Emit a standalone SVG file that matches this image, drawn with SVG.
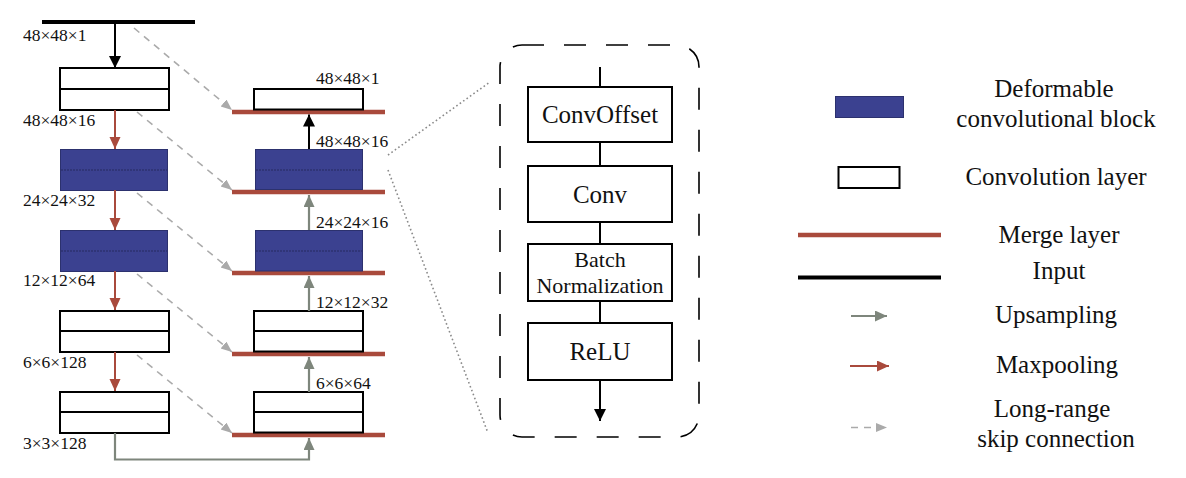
<svg xmlns="http://www.w3.org/2000/svg" width="1186" height="478" viewBox="0 0 1186 478">
<style>
text{font-family:"Liberation Serif","Times New Roman",serif;fill:#111}
.dim{font-size:17.5px}
.blk{font-size:25px;text-anchor:middle}
.bn{font-size:22px;text-anchor:middle}
.leg{font-size:25px;text-anchor:middle}
.conv{fill:#fff;stroke:#000;stroke-width:2}
.deform{fill:#3b4190;stroke:#2c316e;stroke-width:1}
.mid{stroke:#000;stroke-width:2}
.dmid{stroke:#262a60;stroke-width:1;stroke-dasharray:2 1}
.merge{stroke:#a94a3c;stroke-width:4.5}
.pool{stroke:#a94a3c;stroke-width:2;fill:none}
.up{stroke:#7e867c;stroke-width:2.2;fill:none}
.skip{stroke:#aaaaaa;stroke-width:1.6;stroke-dasharray:7 6;fill:none}
.blkline{stroke:#000;stroke-width:2;fill:none}
.dot{stroke:#8a8a8a;stroke-width:1.6;stroke-dasharray:1.6 2.6;fill:none}
</style>
<defs>
<marker id="aBlack" markerUnits="userSpaceOnUse" markerWidth="12" markerHeight="16" viewBox="0 0 12 16" refX="12" refY="6" orient="auto"><path d="M0,0 L12,6 L0,12 Z" fill="#000"/></marker>
<marker id="aRed" markerUnits="userSpaceOnUse" markerWidth="12" markerHeight="12" viewBox="0 0 12 12" refX="12" refY="5.5" orient="auto"><path d="M0,0 L12,5.5 L0,11 Z" fill="#a94a3c"/></marker>
<marker id="aGray" markerUnits="userSpaceOnUse" markerWidth="12" markerHeight="12" viewBox="0 0 12 12" refX="12" refY="5.5" orient="auto"><path d="M0,0 L12,5.5 L0,11 Z" fill="#7e867c"/></marker>
<marker id="aSkip" markerUnits="userSpaceOnUse" markerWidth="12" markerHeight="12" viewBox="0 0 12 12" refX="11" refY="4.5" orient="auto"><path d="M0,0 L11,4.5 L0,9 Z" fill="#aaaaaa"/></marker>
</defs>

<!-- Input -->
<g id="input">
<line x1="42" y1="22" x2="195" y2="22" stroke="#000" stroke-width="4"/>
<text class="dim" x="23" y="41">48×48×1</text>
</g>

<!-- Encoder -->
<g id="enc1">
<rect class="conv" x="60" y="68" width="109" height="42"/>
<line class="mid" x1="60" y1="89" x2="169" y2="89"/>
<text class="dim" x="23" y="126">48×48×16</text>
</g>
<g id="enc2">
<rect class="deform" x="60.5" y="149.5" width="107" height="41"/>
<line class="dmid" x1="61" y1="170" x2="167" y2="170"/>
<text class="dim" x="23" y="206">24×24×32</text>
</g>
<g id="enc3">
<rect class="deform" x="60.5" y="230.5" width="107" height="41"/>
<line class="dmid" x1="61" y1="251" x2="167" y2="251"/>
<text class="dim" x="23" y="286">12×12×64</text>
</g>
<g id="enc4">
<rect class="conv" x="60" y="311" width="109" height="41"/>
<line class="mid" x1="60" y1="331" x2="169" y2="331"/>
<text class="dim" x="23" y="368">6×6×128</text>
</g>
<g id="enc5">
<rect class="conv" x="60" y="392" width="109" height="41"/>
<line class="mid" x1="60" y1="412" x2="169" y2="412"/>
<text class="dim" x="23" y="449">3×3×128</text>
</g>

<!-- Decoder -->
<g id="merge1"><line class="merge" x1="232" y1="112" x2="385" y2="112"/></g>
<g id="merge2"><line class="merge" x1="232" y1="192" x2="385" y2="192"/></g>
<g id="merge3"><line class="merge" x1="232" y1="273" x2="385" y2="273"/></g>
<g id="merge4"><line class="merge" x1="232" y1="354" x2="385" y2="354"/></g>
<g id="merge5"><line class="merge" x1="232" y1="435" x2="385" y2="435"/></g>

<g id="dec0">
<rect class="conv" x="254" y="89" width="109" height="20.5"/>
<text class="dim" x="316" y="84">48×48×1</text>
</g>
<g id="dec1">
<rect class="deform" x="255.5" y="149.5" width="107" height="40"/>
<line class="dmid" x1="256" y1="170" x2="362" y2="170"/>
<text class="dim" x="316" y="147">48×48×16</text>
</g>
<g id="dec2">
<rect class="deform" x="255.5" y="230.5" width="107" height="40.5"/>
<line class="dmid" x1="256" y1="251" x2="362" y2="251"/>
<text class="dim" x="316" y="228">24×24×16</text>
</g>
<g id="dec3">
<rect class="conv" x="254" y="311" width="109" height="40.5"/>
<line class="mid" x1="254" y1="331" x2="363" y2="331"/>
<text class="dim" x="316" y="308">12×12×32</text>
</g>
<g id="dec4">
<rect class="conv" x="254" y="392" width="109" height="40.5"/>
<line class="mid" x1="254" y1="412" x2="363" y2="412"/>
<text class="dim" x="316" y="389">6×6×64</text>
</g>

<!-- Connectors -->
<g id="connectors">
<line class="blkline" x1="115" y1="24" x2="115" y2="68" marker-end="url(#aBlack)"/>
<line class="pool" x1="115" y1="110" x2="115" y2="149" marker-end="url(#aRed)"/>
<line class="pool" x1="115" y1="190" x2="115" y2="230" marker-end="url(#aRed)"/>
<line class="pool" x1="115" y1="271" x2="115" y2="310" marker-end="url(#aRed)"/>
<line class="pool" x1="115" y1="352" x2="115" y2="391" marker-end="url(#aRed)"/>

<line class="blkline" x1="309" y1="149" x2="309" y2="114.5" marker-end="url(#aBlack)"/>
<line class="up" x1="309" y1="230" x2="309" y2="195" marker-end="url(#aGray)"/>
<line class="up" x1="309" y1="311" x2="309" y2="276" marker-end="url(#aGray)"/>
<line class="up" x1="309" y1="392" x2="309" y2="357" marker-end="url(#aGray)"/>
<path class="up" d="M115,433 V459.5 H309 V438" marker-end="url(#aGray)"/>

<line class="skip" x1="134" y1="28" x2="232" y2="110" marker-end="url(#aSkip)"/>
<line class="skip" x1="137" y1="112" x2="232" y2="190" marker-end="url(#aSkip)"/>
<line class="skip" x1="137" y1="193" x2="232" y2="271" marker-end="url(#aSkip)"/>
<line class="skip" x1="137" y1="274" x2="232" y2="352" marker-end="url(#aSkip)"/>
<line class="skip" x1="137" y1="355" x2="232" y2="433" marker-end="url(#aSkip)"/>

<line class="dot" x1="388" y1="155" x2="490" y2="82"/>
<line class="dot" x1="388" y1="170" x2="488" y2="433"/>

<line class="blkline" x1="600" y1="67" x2="600" y2="87"/>
<line class="blkline" x1="600" y1="142" x2="600" y2="166"/>
<line class="blkline" x1="600" y1="222" x2="600" y2="244"/>
<line class="blkline" x1="600" y1="301" x2="600" y2="323"/>
<line class="blkline" x1="600" y1="380" x2="600" y2="421" marker-end="url(#aBlack)"/>
</g>

<!-- Zoomed block -->
<g id="detail-frame">
<rect x="500" y="45" width="199" height="392" rx="22" fill="none" stroke="#000" stroke-width="1.6" stroke-dasharray="22 20"/>
</g>
<g id="convoffset">
<rect class="conv" x="528" y="87" width="144" height="55"/>
<text class="blk" x="600" y="123">ConvOffset</text>
</g>
<g id="conv">
<rect class="conv" x="528" y="166" width="144" height="56"/>
<text class="blk" x="600" y="203">Conv</text>
</g>
<g id="batchnorm">
<rect class="conv" x="528" y="244" width="144" height="57"/>
<text class="bn" x="600" y="267">Batch</text>
<text class="bn" x="600" y="293">Normalization</text>
</g>
<g id="relu">
<rect class="conv" x="528" y="323" width="144" height="57"/>
<text class="blk" x="600" y="360">ReLU</text>
</g>

<!-- Legend -->
<g id="legend-deform">
<rect class="deform" x="835.5" y="96.5" width="68" height="21"/>
<text class="leg" x="1054" y="97">Deformable</text>
<text class="leg" x="1056" y="127">convolutional block</text>
</g>
<g id="legend-conv">
<rect class="conv" x="838.5" y="167" width="61" height="21"/>
<text class="leg" x="1056" y="185">Convolution layer</text>
</g>
<g id="legend-merge">
<line class="merge" x1="798" y1="235" x2="941" y2="235"/>
<text class="leg" x="1059" y="243">Merge layer</text>
</g>
<g id="legend-input">
<line x1="798" y1="277.5" x2="941" y2="277.5" stroke="#000" stroke-width="4"/>
<text class="leg" x="1059" y="279">Input</text>
</g>
<g id="legend-up">
<line class="up" x1="851" y1="316" x2="887" y2="316" marker-end="url(#aGray)"/>
<text class="leg" x="1056" y="323">Upsampling</text>
</g>
<g id="legend-pool">
<line class="pool" x1="850" y1="366" x2="889" y2="366" marker-end="url(#aRed)"/>
<text class="leg" x="1057" y="373">Maxpooling</text>
</g>
<g id="legend-skip">
<line class="skip" x1="851" y1="427.5" x2="887" y2="427.5" stroke-dasharray="5 5" marker-end="url(#aSkip)"/>
<text class="leg" x="1052" y="417">Long-range</text>
<text class="leg" x="1056" y="447">skip connection</text>
</g>
</svg>
